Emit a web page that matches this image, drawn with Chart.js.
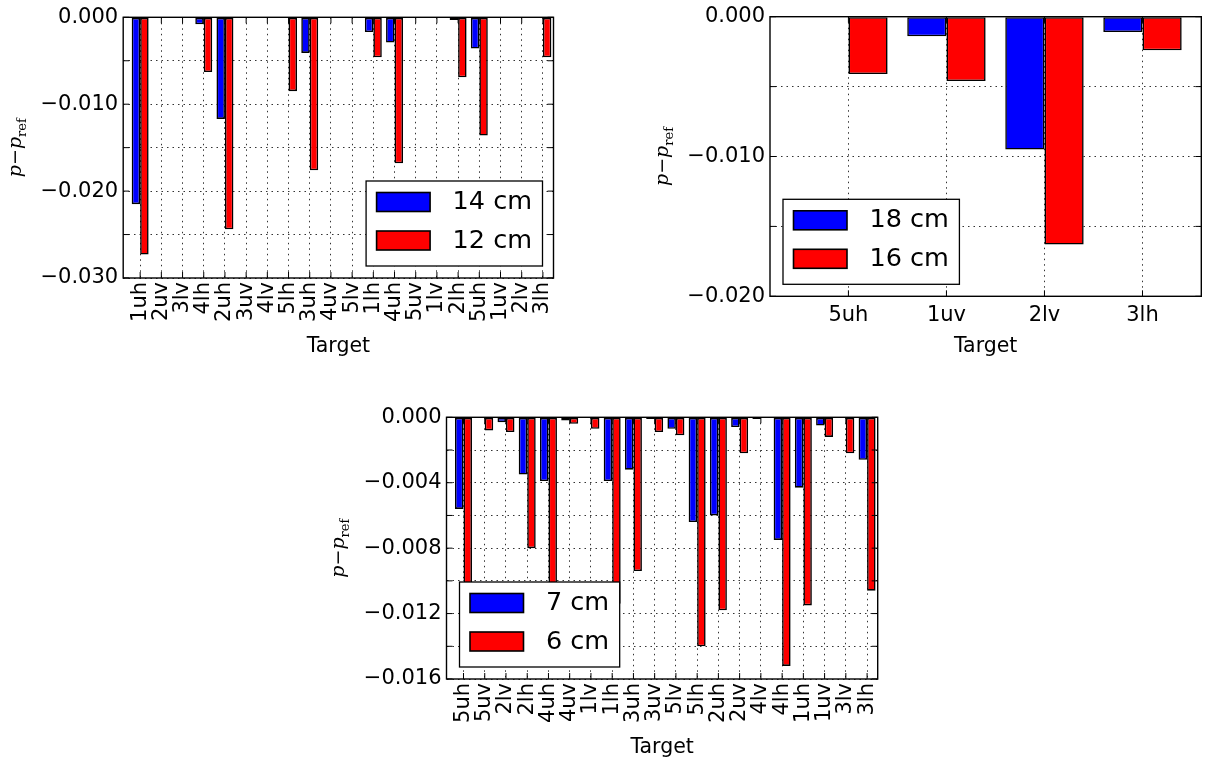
<!DOCTYPE html>
<html>
<head>
<meta charset="utf-8">
<script src="https://cdn.jsdelivr.net/npm/chart.js@4.4.1/dist/chart.umd.min.js"></script>
<style>
  html, body { margin: 0; padding: 0; background: #fff; }
  #page { position: relative; width: 1211px; height: 760px; overflow: hidden; }
  canvas { position: absolute; }
</style>
</head>
<body>
<div id="page">
  <canvas id="c1" width="600" height="380" style="left:0px;top:0px"></canvas>
  <canvas id="c2" width="571" height="380" style="left:640px;top:0px"></canvas>
  <canvas id="c3" width="620" height="360" style="left:300px;top:400px"></canvas>
</div>
<script>
// top-left panel
const targets1 = ['1uh', '2uv', '3lv', '4lh', '2uh', '3uv', '4lv', '5lh', '3uh', '4uv',
                  '5lv', '1lh', '4uh', '5uv', '1lv', '2lh', '5uh', '1uv', '2lv', '3lh'];
const cm14 = [-0.0215, 0, 0, -0.0008, -0.0117, 0, 0, 0, -0.0041, 0,
              0, -0.0017, -0.0029, 0, 0, -0.0003, -0.0036, 0, 0, 0];
const cm12 = [-0.0273, 0, 0, -0.0063, -0.0244, 0, 0, -0.0085, -0.0176, 0,
              0, -0.0046, -0.0168, 0, 0, -0.0069, -0.0136, 0, 0, -0.0046];

// top-right panel
const targets2 = ['5uh', '1uv', '2lv', '3lh'];
const cm18 = [0, -0.0014, -0.0095, -0.0011];
const cm16 = [-0.0041, -0.0046, -0.0163, -0.0024];

// bottom panel
const targets3 = ['5uh', '5uv', '2lv', '2lh', '4uh', '4uv', '1lv', '1lh', '3uh', '3uv',
                  '5lv', '5lh', '2uh', '2uv', '4lv', '4lh', '1uh', '1uv', '3lv', '3lh'];
const cm7 = [-0.0056, 0, -0.0003, -0.0035, -0.0039, -0.0002, 0, -0.0039, -0.0032, -0.0001,
             -0.0007, -0.0064, -0.0060, -0.0006, -0.0001, -0.0075, -0.0043, -0.0005, 0, -0.0026];
const cm6 = [-0.0122, -0.0008, -0.0009, -0.0080, -0.0118, -0.0004, -0.0007, -0.0114, -0.0094, -0.0009,
             -0.0011, -0.0140, -0.0118, -0.0022, 0, -0.0152, -0.0115, -0.0012, -0.0022, -0.0106];

const FONT = '"DejaVu Sans"';

function fmt(v) {
    if (Math.abs(v) < 1e-9) return '0.000';
    return '\u2212' + Math.abs(v).toFixed(3);
}

// frame, inward ticks, axis labels and the legend drawn on top of the bars
const decor = {
    id: 'decor',
    afterDraw(chart, args, o) {
        const ctx = chart.ctx, a = chart.chartArea;
        const xs = chart.scales.x, ys = chart.scales.y;
        ctx.save();

        ctx.strokeStyle = '#000';
        ctx.lineWidth = 1;
        ctx.beginPath();
        xs.ticks.forEach(function (t) {
            const px = xs.getPixelForValue(t.value);
            ctx.moveTo(px, a.bottom); ctx.lineTo(px, a.bottom - 6);
            ctx.moveTo(px, a.top); ctx.lineTo(px, a.top + 6);
        });
        ys.ticks.forEach(function (t) {
            const py = ys.getPixelForValue(t.value);
            ctx.moveTo(a.left, py); ctx.lineTo(a.left + 6, py);
            ctx.moveTo(a.right, py); ctx.lineTo(a.right - 6, py);
        });
        ctx.stroke();

        ctx.lineWidth = 1.4;
        ctx.strokeRect(a.left, a.top, a.right - a.left, a.bottom - a.top);

        // x label
        ctx.fillStyle = '#000';
        ctx.font = '20.5px ' + FONT;
        ctx.textAlign = 'center';
        ctx.textBaseline = 'alphabetic';
        ctx.fillText('Target', (a.left + a.right) / 2, a.bottom + o.xLabelOffset);

        // y label  p - p_ref
        const big = 'italic 19px "DejaVu Serif"', minus = '19px "DejaVu Serif"', small = '13px "DejaVu Serif"';
        ctx.font = big; const wp = ctx.measureText('p').width;
        ctx.font = minus; const wm = ctx.measureText('\u2212').width;
        ctx.font = small; const wr = ctx.measureText('ref').width;
        const total = wp * 2 + wm + wr;
        ctx.translate(a.left - 102.5, (a.top + a.bottom) / 2);
        ctx.rotate(-Math.PI / 2);
        ctx.textAlign = 'left';
        let u = -total / 2;
        ctx.font = big; ctx.fillText('p', u, 0); u += wp;
        ctx.font = minus; ctx.fillText('\u2212', u, 0); u += wm;
        ctx.font = big; ctx.fillText('p', u, 0); u += wp;
        ctx.font = small; ctx.fillText('ref', u, 5);
        ctx.setTransform(1, 0, 0, 1, 0, 0);

        // legend
        const items = chart.data.datasets;
        ctx.font = '25.5px ' + FONT;
        const tw = Math.max.apply(null, items.map(function (d) { return ctx.measureText(d.label).width; }));
        const boxW = 10.5 + 53.5 + 22.5 + tw + 10.5, boxH = 85;
        const bx = o.legendLoc === 'lower right' ? a.right - 11 - boxW : a.left + 13;
        const by = a.bottom - 12 - boxH;
        ctx.fillStyle = '#fff';
        ctx.fillRect(bx, by, boxW, boxH);
        ctx.lineWidth = 1.3;
        ctx.strokeRect(bx, by, boxW, boxH);
        items.forEach(function (d, i) {
            const sy = by + 11.5 + i * 38.5;
            ctx.fillStyle = d.backgroundColor;
            ctx.fillRect(bx + 10.5, sy, 53.5, 19);
            ctx.lineWidth = 1.6;
            ctx.strokeRect(bx + 10.5, sy, 53.5, 19);
            ctx.fillStyle = '#000';
            ctx.textAlign = 'left';
            ctx.textBaseline = 'middle';
            ctx.fillText(d.label, bx + 86.5, sy + 10);
        });
        ctx.restore();
    }
};

function makeChart(id, cats, s1, s2, names, cfg) {
    const pts = function (arr) { return arr.map(function (v, i) { return { x: i, y: v }; }); };
    return new Chart(document.getElementById(id), {
        type: 'bar',
        data: {
            datasets: [
                { label: names[0], data: pts(s1), backgroundColor: '#0000ff', borderColor: '#000', borderWidth: 1.6, borderSkipped: false },
                { label: names[1], data: pts(s2), backgroundColor: '#ff0000', borderColor: '#000', borderWidth: 1.6, borderSkipped: false }
            ]
        },
        options: {
            responsive: false,
            animation: false,
            devicePixelRatio: 1,
            categoryPercentage: 0.8,
            barPercentage: 1.0,
            layout: { padding: cfg.padding },
            plugins: {
                legend: { display: false },
                tooltip: { enabled: false },
                decor: { legendLoc: cfg.legendLoc, xLabelOffset: cfg.xLabelOffset }
            },
            scales: {
                x: {
                    type: 'linear',
                    min: -0.8,
                    max: cats.length - cfg.rightPad,
                    offset: false,
                    afterBuildTicks: function (s) { s.ticks = cats.map(function (c, i) { return { value: i }; }); },
                    afterFit: function (s) { s.height = 60; s.paddingLeft = 0; s.paddingRight = 0; },
                    ticks: {
                        autoSkip: false,
                        minRotation: cfg.rotation,
                        maxRotation: cfg.rotation,
                        padding: cfg.xPad,
                        color: '#000',
                        font: { family: FONT, size: 21 },
                        callback: function (v) { return cats[v]; }
                    },
                    grid: { offset: false, color: '#333', lineWidth: 1, drawTicks: false },
                    border: { display: false, dash: [1.5, 4] }
                },
                y: {
                    min: cfg.ymin,
                    max: 0,
                    afterFit: function (s) { s.width = 110; s.paddingTop = 0; s.paddingBottom = 0; },
                    ticks: {
                        stepSize: cfg.step,
                        autoSkip: false,
                        padding: 5,
                        color: '#000',
                        font: { family: FONT, size: 21 },
                        callback: function (v) {
                            return Math.round(v / cfg.step) % 2 === 0 ? fmt(v) : '';
                        }
                    },
                    grid: { color: '#333', lineWidth: 1, drawTicks: false },
                    border: { display: false, dash: [1.5, 4] }
                }
            }
        },
        plugins: [decor]
    });
}

makeChart('c1', targets1, cm14, cm12, ['14 cm', '12 cm'], {
    padding: { left: 13.2, top: 17.3, right: 46.5, bottom: 42 },
    ymin: -0.030, step: 0.005, rotation: 90, xPad: 4, rightPad: 0.5,
    legendLoc: 'lower right', xLabelOffset: 73.7
});
makeChart('c2', targets2, cm18, cm16, ['18 cm', '16 cm'], {
    padding: { left: 20, top: 16.7, right: 9.7, bottom: 23.7 },
    ymin: -0.020, step: 0.005, rotation: 0, xPad: 7, rightPad: 0.4,
    legendLoc: 'lower left', xLabelOffset: 55.5
});
makeChart('c3', targets3, cm7, cm6, ['7 cm', '6 cm'], {
    padding: { left: 36.5, top: 17.3, right: 42.3, bottom: 21 },
    ymin: -0.016, step: 0.002, rotation: 90, xPad: 4, rightPad: 0.5,
    legendLoc: 'lower left', xLabelOffset: 73.7
});
</script>
</body>
</html>
